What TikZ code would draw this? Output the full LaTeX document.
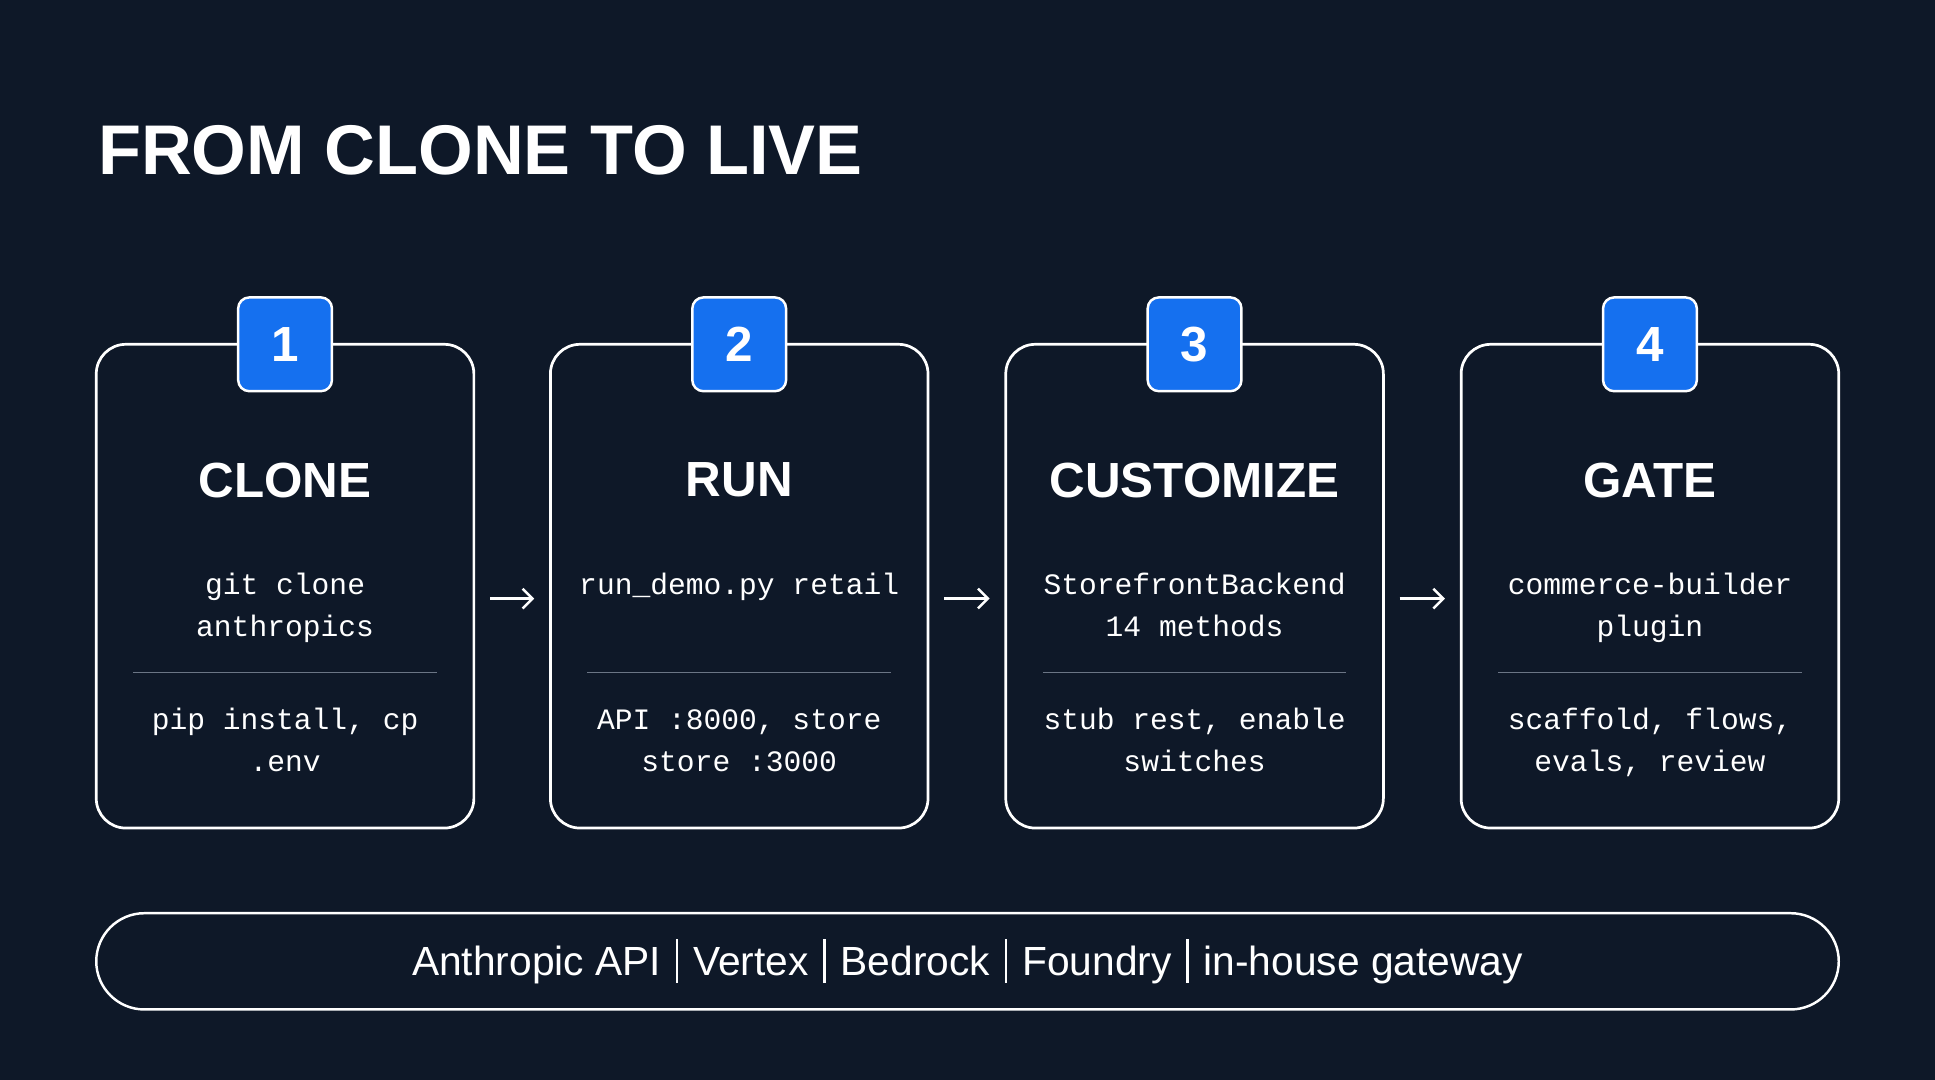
\documentclass[tikz,border=0pt]{standalone}
\usepackage{fontspec}
\setmainfont{Liberation Sans}
\newfontfamily\monof{Liberation Mono}
\definecolor{bg}{HTML}{0E1828}
\definecolor{badge}{HTML}{1570EF}
\definecolor{divc}{HTML}{6B7585}
\usetikzlibrary{arrows.meta}
\tikzset{
 card/.style={draw=white,line width=2.2pt,rounded corners=24pt,minimum width=306pt,minimum height=392pt},
 badgebox/.style={draw=white,line width=2pt,fill=badge,rounded corners=9pt,minimum width=76pt,minimum height=76pt,text=white,font=\fontsize{40}{40}\selectfont\bfseries},
 head/.style={text=white,font=\fontsize{40}{40}\selectfont\bfseries},
 mono/.style={text=white,font=\monof\fontsize{24}{34}\selectfont,align=center,anchor=base},
 divline/.style={draw=divc,line width=0.8pt},
 flow/.style={draw=white,line width=2pt,-{Straight Barb[length=8pt,width=16pt]}},
}
\newcommand{\sepbar}{\hspace{12pt}\rule[-6pt]{2pt}{36pt}\hspace{12pt}}
\begin{document}
\begin{tikzpicture}[x=1pt,y=-1pt]
\fill[bg] (0,0) rectangle (1568,875);
\useasboundingbox (0,0) rectangle (1568,875);
\node[anchor=west,text=white,font=\fontsize{57}{57}\selectfont\bfseries] (title) at (76,122) {FROM CLONE TO LIVE};
\foreach \i/\x/\h/\a/\b in {1/231/CLONE/{git clone\\anthropics}/{pip install, cp\\.env},
 2/599/RUN/{run\_demo.py retail\\\phantom{x}}/{API :8000, store\\store :3000},
 3/968/CUSTOMIZE/{StorefrontBackend\\14 methods}/{stub rest, enable\\switches},
 4/1337/GATE/{commerce-builder\\plugin}/{scaffold, flows,\\evals, review}}{
 \node[card] (c\i) at (\x,475) {};
 \node[badgebox] (b\i) at (\x,279) {\i};
 \node[head] (h\i) at (\x,389) {\h};
 \node[mono] (t\i) at (\x,516) {\a};
 \node[mono] (u\i) at (\x,625) {\b};
 \coordinate (dl\i) at (\x-123,545);
 \coordinate (dr\i) at (\x+123,545);
 \draw[divline] (dl\i) -- (dr\i);
}
\foreach \p/\q in {1/2,2/3,3/4}{
 \coordinate (s\p) at ([xshift=12pt,yshift=-10pt]c\p.east);
 \coordinate (e\p) at ([xshift=-12pt,yshift=-10pt]c\q.west);
 \draw[flow] (s\p) -- (e\p);
}
\node[draw=white,line width=2pt,rounded corners=39pt,minimum width=1412pt,minimum height=78pt,text=white,font=\fontsize{33}{33}\selectfont] (pill) at (784,779) {Anthropic API\sepbar Vertex\sepbar Bedrock\sepbar Foundry\sepbar in-house gateway};
\end{tikzpicture}
\end{document}
